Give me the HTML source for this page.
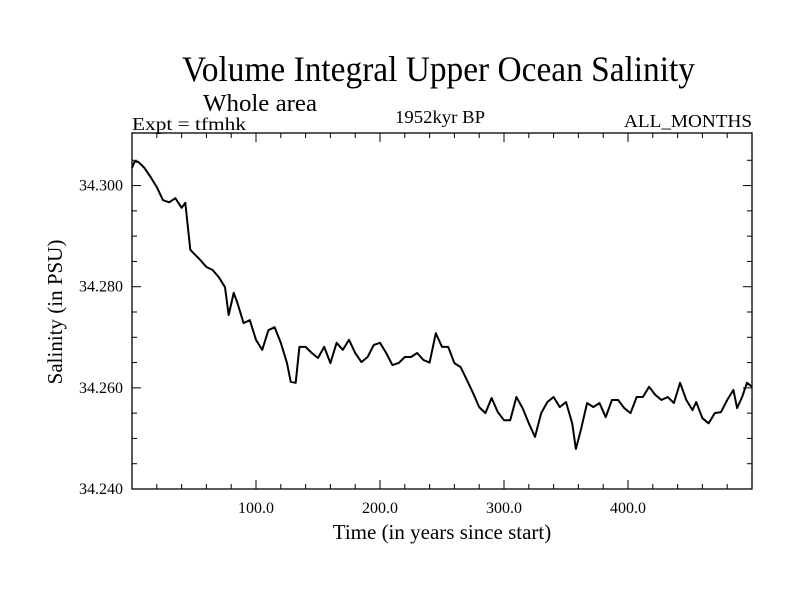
<!DOCTYPE html>
<html><head><meta charset="utf-8"><style>
body{margin:0;background:#fff}
svg{display:block;font-family:"Liberation Serif",serif}
</style></head><body>
<svg id="chart" width="800" height="600" viewBox="0 0 800 600">
<rect width="800" height="600" fill="#fff"/>
<text x="182" y="81" font-size="36" textLength="513" lengthAdjust="spacingAndGlyphs">Volume Integral Upper Ocean Salinity</text>
<text x="203" y="111" font-size="24" textLength="114" lengthAdjust="spacingAndGlyphs">Whole area</text>
<text x="132" y="130" font-size="18" textLength="114" lengthAdjust="spacingAndGlyphs">Expt = tfmhk</text>
<text x="395" y="123" font-size="18" textLength="90" lengthAdjust="spacingAndGlyphs">1952kyr BP</text>
<text x="752" y="127" font-size="18" text-anchor="end" textLength="128" lengthAdjust="spacingAndGlyphs">ALL_MONTHS</text>
<g id="axes"></g>
<polyline id="series" fill="none" stroke="#000" stroke-width="2" stroke-linejoin="round"/>
<text x="442" y="539" font-size="21" text-anchor="middle">Time (in years since start)</text>
<text transform="translate(62,312) rotate(-90)" font-size="21" text-anchor="middle">Salinity (in PSU)</text>
</svg>
<script>
const years=[0,2,5,10,15,20,25,30,35,40,43,47,55,60,65,70,75,78,82,85,90,95,100,105,110,115,120,125,128,132,135,140,145,150,155,160,165,170,175,180,185,190,195,200,205,210,215,220,225,230,235,240,245,250,255,260,265,270,275,280,285,290,295,300,305,310,315,320,325,330,335,340,345,350,355,358,362,367,372,377,382,387,392,397,402,407,412,417,422,427,432,437,442,447,452,455,460,465,470,475,480,485,488,492,496,500];
const salinity=[34.3035,34.3047,34.3047,34.3035,34.3017,34.2997,34.2971,34.2967,34.2975,34.2956,34.2966,34.2873,34.2853,34.2839,34.2833,34.2819,34.2799,34.2744,34.2788,34.2768,34.2728,34.2734,34.2695,34.2675,34.2714,34.2720,34.2689,34.2649,34.2612,34.2610,34.2681,34.2681,34.2669,34.2659,34.2681,34.2649,34.2689,34.2675,34.2695,34.2669,34.2651,34.2661,34.2685,34.2689,34.2669,34.2645,34.2649,34.2661,34.2661,34.2669,34.2655,34.2650,34.2708,34.2681,34.2681,34.2649,34.2641,34.2616,34.2590,34.2562,34.2550,34.2580,34.2552,34.2536,34.2536,34.2582,34.2560,34.2530,34.2503,34.2550,34.2572,34.2582,34.2562,34.2572,34.2530,34.2479,34.2517,34.2570,34.2562,34.2570,34.2542,34.2576,34.2576,34.2560,34.2550,34.2582,34.2582,34.2602,34.2586,34.2576,34.2582,34.2570,34.2610,34.2576,34.2556,34.2572,34.2540,34.2530,34.2550,34.2552,34.2576,34.2596,34.2560,34.2582,34.2610,34.2602];
const xTicks=[100,200,300,400];
const xTickLabels=["100.0","200.0","300.0","400.0"];
const yTicks=[34.24,34.26,34.28,34.30];
const yTickLabels=["34.240","34.260","34.280","34.300"];
const L=132,R=752,T=135,B=489,X0=0,X1=500,Y0=34.24,Y1=34.31;
const sx=v=>L+(v-X0)/(X1-X0)*(R-L);
const sy=v=>B-(v-Y0)/(Y1-Y0)*(B-T);
const NS="http://www.w3.org/2000/svg";
const g=document.getElementById('axes');
function ln(x1,y1,x2,y2,w,name){const e=document.createElementNS(NS,'line');e.setAttribute('x1',x1);e.setAttribute('y1',y1);e.setAttribute('x2',x2);e.setAttribute('y2',y2);e.setAttribute('stroke','#000');e.setAttribute('stroke-width',w);


g.appendChild(e);}
const fr=document.createElementNS(NS,'rect');
fr.setAttribute('x',L);fr.setAttribute('y',T-2);fr.setAttribute('width',R-L);fr.setAttribute('height',B-T+2);fr.setAttribute('fill','none');fr.setAttribute('stroke','#000');fr.setAttribute('stroke-width','1.3');


g.appendChild(fr);
for(let v=20;v<500;v+=20){const x=sx(v);const maj=v%100===0;const len=maj?9:5;
ln(x,B,x,B-len,1,'x-tick');ln(x,T-2,x,T-2+len,1,'x-tick-top');}
for(let k=0;k<14;k++){const v=Y0+k*0.005;const y=sy(v);const maj=k%4===0;const len=maj?9:5;
ln(L,y,L+len,y,1,'y-tick');ln(R,y,R-len,y,1,'y-tick-right');}
xTicks.forEach((v,i)=>{const t=document.createElementNS(NS,'text');t.setAttribute('x',sx(v));t.setAttribute('y',513);t.setAttribute('font-size','16');t.setAttribute('text-anchor','middle');t.textContent=xTickLabels[i];


g.appendChild(t);});
yTicks.forEach((v,i)=>{const t=document.createElementNS(NS,'text');t.setAttribute('x',123);t.setAttribute('y',sy(v)+5);t.setAttribute('font-size','16');t.setAttribute('text-anchor','end');t.textContent=yTickLabels[i];


g.appendChild(t);});
document.getElementById('series').setAttribute('points',years.map((t,i)=>sx(t).toFixed(1)+','+sy(salinity[i]).toFixed(1)).join(' '));
</script>
</body></html>
